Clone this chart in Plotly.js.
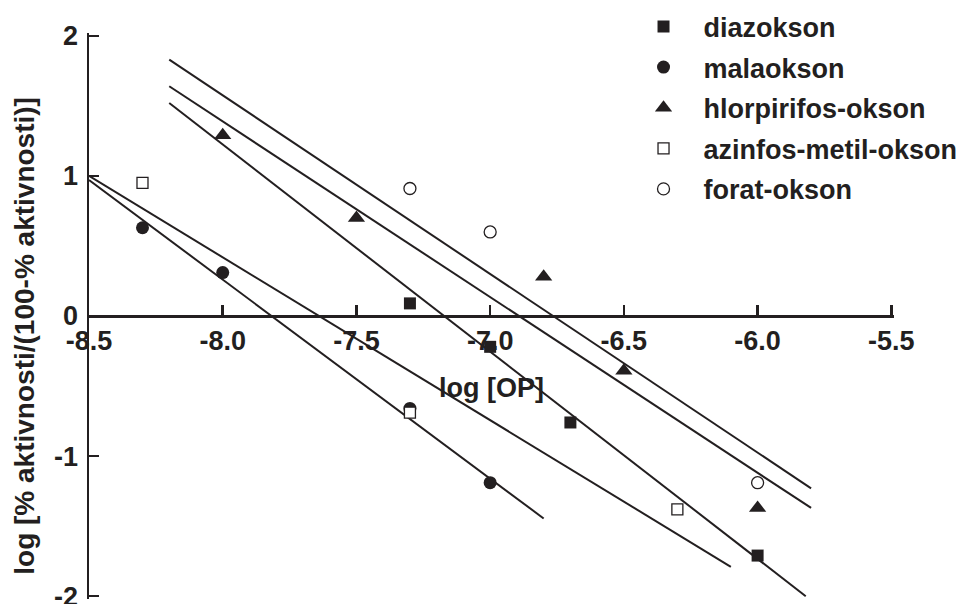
<!DOCTYPE html>
<html>
<head>
<meta charset="utf-8">
<script src="https://cdn.plot.ly/plotly-3.0.1.min.js"></script>
<style>html,body{margin:0;padding:0;background:#fff;}#chart{width:961px;height:604px;}</style>
</head>
<body>
<div id="chart"></div>
<script>
// Series names
var seriesNames = ['diazokson', 'malaokson', 'hlorpirifos-okson', 'azinfos-metil-okson', 'forat-okson'];

// Measured points (log [OP], log[% akt/(100-% akt)])
var diazoksonX = [-7.3, -7.0, -6.7, -6.0];
var diazoksonY = [0.09, -0.22, -0.76, -1.71];
var malaoksonX = [-8.3, -8.0, -7.3, -7.0];
var malaoksonY = [0.63, 0.31, -0.66, -1.19];
var hlorpirifosX = [-8.0, -7.5, -6.8, -6.5, -6.0];
var hlorpirifosY = [1.29, 0.70, 0.28, -0.39, -1.37];
var azinfosX = [-8.3, -7.3, -6.3];
var azinfosY = [0.95, -0.69, -1.38];
var foratX = [-7.3, -7.0, -6.0];
var foratY = [0.91, 0.60, -1.19];

// Regression lines (end points)
var fitDiazoksonX = [-8.2, -5.82];
var fitDiazoksonY = [1.52, -2.0];
var fitMalaoksonX = [-8.5, -6.8];
var fitMalaoksonY = [0.97, -1.445];
var fitHlorpirifosX = [-8.2, -5.8];
var fitHlorpirifosY = [1.64, -1.37];
var fitAzinfosX = [-8.5, -6.1];
var fitAzinfosY = [1.0, -1.79];
var fitForatX = [-8.2, -5.8];
var fitForatY = [1.83, -1.23];

// Tick labels
var xTickVals = [-8.5, -8.0, -7.5, -7.0, -6.5, -6.0, -5.5];
var xTickText = ['-8.5', '-8.0', '-7.5', '-7.0', '-6.5', '-6.0', '-5.5'];
var yTickVals = [-2, -1, 0, 1, 2];
var yTickText = ['-2', '-1', '0', '1', '2'];

var xTitle = 'log [OP]';
var yTitle = 'log [% aktivnosti/(100-% aktivnosti)]';

var INK = '#231f20';
var FONT = 'Liberation Sans, Arial, Helvetica, sans-serif';

function fit(x, y) {
  return {x: x, y: y, mode: 'lines', type: 'scatter', showlegend: false, hoverinfo: 'skip',
    line: {color: INK, width: 2}};
}
function pts(name, x, y, symbol, fill, size) {
  return {x: x, y: y, name: name, legendgroup: name, mode: 'markers', type: 'scatter',
    marker: {symbol: symbol, size: size, color: fill, line: {color: INK, width: fill === '#ffffff' ? 1.3 : 0}}};
}

var data = [
  fit(fitForatX, fitForatY),
  fit(fitHlorpirifosX, fitHlorpirifosY),
  fit(fitDiazoksonX, fitDiazoksonY),
  fit(fitAzinfosX, fitAzinfosY),
  fit(fitMalaoksonX, fitMalaoksonY),
  pts(seriesNames[0], diazoksonX, diazoksonY, 'square', INK, 12),
  pts(seriesNames[1], malaoksonX, malaoksonY, 'circle', INK, 13),
  pts(seriesNames[2], hlorpirifosX, hlorpirifosY, 'triangle-up', INK, 15),
  pts(seriesNames[3], azinfosX, azinfosY, 'square', '#ffffff', 11),
  pts(seriesNames[4], foratX, foratY, 'circle', '#ffffff', 12)
];

var tickFont = {family: FONT, size: 27, color: INK, weight: 'bold'};

// plot area: x -8.5..-5.49 over 89..893.7 px ; y -2.02..2.02 over 33.2..599.5 px
var layout = {
  width: 961, height: 604,
  margin: {l: 89, r: 67.3, t: 33.2, b: 4.5, pad: 0, autoexpand: false},
  paper_bgcolor: '#ffffff', plot_bgcolor: '#ffffff',
  font: {family: FONT, color: INK, size: 25, weight: 'bold'},
  showlegend: true,
  legend: {
    x: 0.664, xanchor: 'left', y: 1.054, yanchor: 'top',
    bgcolor: 'rgba(0,0,0,0)', borderwidth: 0, itemwidth: 70,
    font: {family: FONT, size: 27, color: INK, weight: 'bold'},
    traceorder: 'grouped', tracegroupgap: 2.5
  },
  xaxis: {
    range: [-8.5, -5.49], anchor: 'free', position: 0.5, side: 'bottom',
    showgrid: false, zeroline: false, showline: true, linecolor: INK, linewidth: 2.5,
    ticks: 'inside', ticklen: 10, tickwidth: 2.5, tickcolor: INK,
    tickmode: 'array', tickvals: xTickVals, ticktext: xTickText,
    tickfont: tickFont, ticklabeloverflow: 'allow',
    title: {text: xTitle, font: {family: FONT, size: 27, color: INK, weight: 'bold'}, standoff: 22},
    automargin: false
  },
  yaxis: {
    range: [-2.02, 2.02], showgrid: false, zeroline: false, showline: true, linecolor: INK, linewidth: 2.5,
    ticks: 'inside', ticklen: 10, tickwidth: 2.5, tickcolor: INK,
    tickmode: 'array', tickvals: yTickVals, ticktext: yTickText,
    tickfont: tickFont, ticklabeloverflow: 'allow', ticklabelstandoff: 3,
    automargin: false
  },
  annotations: [{
    text: yTitle, xref: 'paper', yref: 'paper', x: -0.0796, y: 0.465,
    xanchor: 'center', yanchor: 'middle', textangle: -90, showarrow: false,
    font: {family: FONT, size: 28, color: INK, weight: 'bold'}
  }]
};

Plotly.newPlot('chart', data, layout, {displayModeBar: false, staticPlot: true});
</script>
</body>
</html>
